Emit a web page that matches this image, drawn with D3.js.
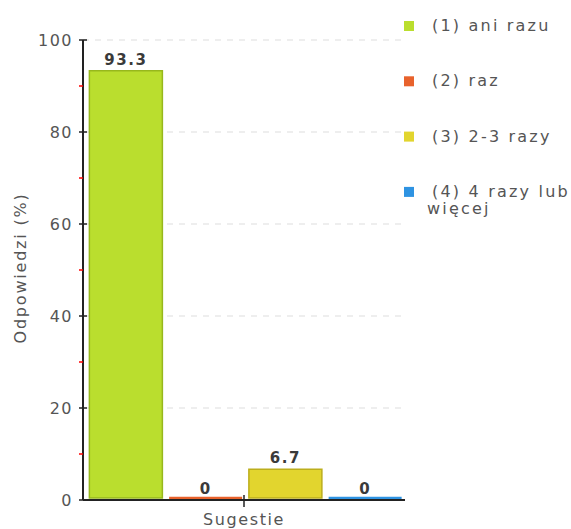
<!DOCTYPE html>
<html>
<head>
<meta charset="utf-8">
<script src="https://cdn.jsdelivr.net/npm/d3@7"></script>
<style>
  html, body { margin: 0; padding: 0; background: #fff; }
  text { font-family: "DejaVu Sans", Verdana, sans-serif; }
</style>
</head>
<body>
<svg id="chart" width="571" height="529"></svg>
<script>
const categories = ["(1) ani razu", "(2) raz", "(3) 2-3 razy", "(4) 4 razy lub więcej"];
const values = [93.3, 0, 6.7, 0];
const valueLabels = ["93.3", "0", "6.7", "0"];
const colors = ["#bade2e", "#e8622c", "#e2d52e", "#2e93e2"];
const strokes = ["#97b81c", "#c24e20", "#bcae1c", "#1f74c0"];
const majorTicks = [0, 20, 40, 60, 80, 100];
const minorTicks = [10, 30, 50, 70, 90];
const xLabel = "Sugestie";
const yLabel = "Odpowiedzi (%)";

const svg = d3.select("#chart");
const pLeft = 83, pRight = 405, pTop = 40, pBottom = 500;

const y = d3.scaleLinear().domain([0, 100]).range([pBottom, pTop]);
const x = d3.scaleBand().domain(categories).range([pLeft + 3, pRight]).paddingInner(0).paddingOuter(0);

// gridlines
svg.append("g").selectAll("line").data(majorTicks.filter(d => d > 0)).join("line")
  .attr("x1", pLeft).attr("x2", pRight)
  .attr("y1", d => y(d)).attr("y2", d => y(d))
  .attr("stroke", "#dddddd").attr("stroke-width", 1).attr("stroke-dasharray", "6,6");

// bars
const bw = 73;
svg.append("g").selectAll("path").data(categories).join("path")
  .attr("d", (c, i) => {
    const cx = x(c) + x.bandwidth() / 2;
    const x0 = cx - bw / 2, x1 = cx + bw / 2;
    const yb = y(0) - 2, yt = Math.min(y(values[i]), yb);
    return `M${x0},${yb}V${yt}H${x1}V${yb}Z`;
  })
  .attr("fill", (c, i) => colors[i])
  .attr("stroke", (c, i) => values[i] === 0 ? colors[i] : strokes[i])
  .attr("stroke-width", (c, i) => values[i] === 0 ? 2.5 : 1.5);

// value labels
svg.append("g").selectAll("text").data(categories).join("text")
  .attr("x", c => x(c) + x.bandwidth() / 2)
  .attr("y", (c, i) => y(values[i]) - 6)
  .attr("text-anchor", "middle")
  .attr("font-size", 15).attr("font-weight", "bold")
  .attr("letter-spacing", 1.5)
  .attr("fill", "#3a3a3a")
  .text((c, i) => valueLabels[i]);

// y axis
const ya = svg.append("g");
ya.append("line").attr("x1", pLeft).attr("x2", pLeft).attr("y1", pTop).attr("y2", pBottom)
  .attr("stroke", "#222").attr("stroke-width", 2);
ya.selectAll(".maj").data(majorTicks).join("line").attr("class", "maj")
  .attr("x1", pLeft - 4).attr("x2", pLeft + 4)
  .attr("y1", d => y(d)).attr("y2", d => y(d))
  .attr("stroke", "#222").attr("stroke-width", 1.5);
ya.selectAll(".min").data(minorTicks).join("line").attr("class", "min")
  .attr("x1", pLeft - 4).attr("x2", pLeft)
  .attr("y1", d => y(d)).attr("y2", d => y(d))
  .attr("stroke", "#ff0000").attr("stroke-width", 1.5);
ya.selectAll("text").data(majorTicks).join("text")
  .attr("x", 73).attr("y", d => y(d))
  .attr("dy", "0.36em")
  .attr("text-anchor", "end")
  .attr("font-size", 16).attr("letter-spacing", 1.5)
  .attr("fill", "#555")
  .text(d => d);

// x axis
svg.append("line").attr("x1", pLeft).attr("x2", pRight).attr("y1", pBottom).attr("y2", pBottom)
  .attr("stroke", "#222").attr("stroke-width", 2);
svg.append("line").attr("x1", 244).attr("x2", 244)
  .attr("y1", pBottom - 5).attr("y2", pBottom + 7)
  .attr("stroke", "#222").attr("stroke-width", 1.5);
svg.append("text").attr("x", 244).attr("y", 525)
  .attr("text-anchor", "middle").attr("font-size", 16).attr("letter-spacing", 1.6)
  .attr("fill", "#555").text(xLabel);

// y title
svg.append("text").attr("transform", "translate(26,268) rotate(-90)")
  .attr("text-anchor", "middle").attr("font-size", 16).attr("letter-spacing", 1.8)
  .attr("fill", "#555").text(yLabel);

// legend
const legendLines = [["(1) ani razu"], ["(2) raz"], ["(3) 2-3 razy"], ["(4) 4 razy lub", "więcej"]];
const lg = svg.append("g");
const ly = i => 21 + i * 55.3;
lg.selectAll("rect").data(categories).join("rect")
  .attr("x", 404).attr("y", (c, i) => ly(i)).attr("width", 10).attr("height", 10)
  .attr("fill", (c, i) => colors[i]);
legendLines.forEach((lines, i) => {
  lines.forEach((t, j) => {
    lg.append("text")
      .attr("x", j === 0 ? 432 : 427)
      .attr("y", ly(i) + 10 + j * 17)
      .attr("font-size", 16).attr("letter-spacing", 2.2)
      .attr("fill", "#555").text(t);
  });
});
</script>
</body>
</html>
